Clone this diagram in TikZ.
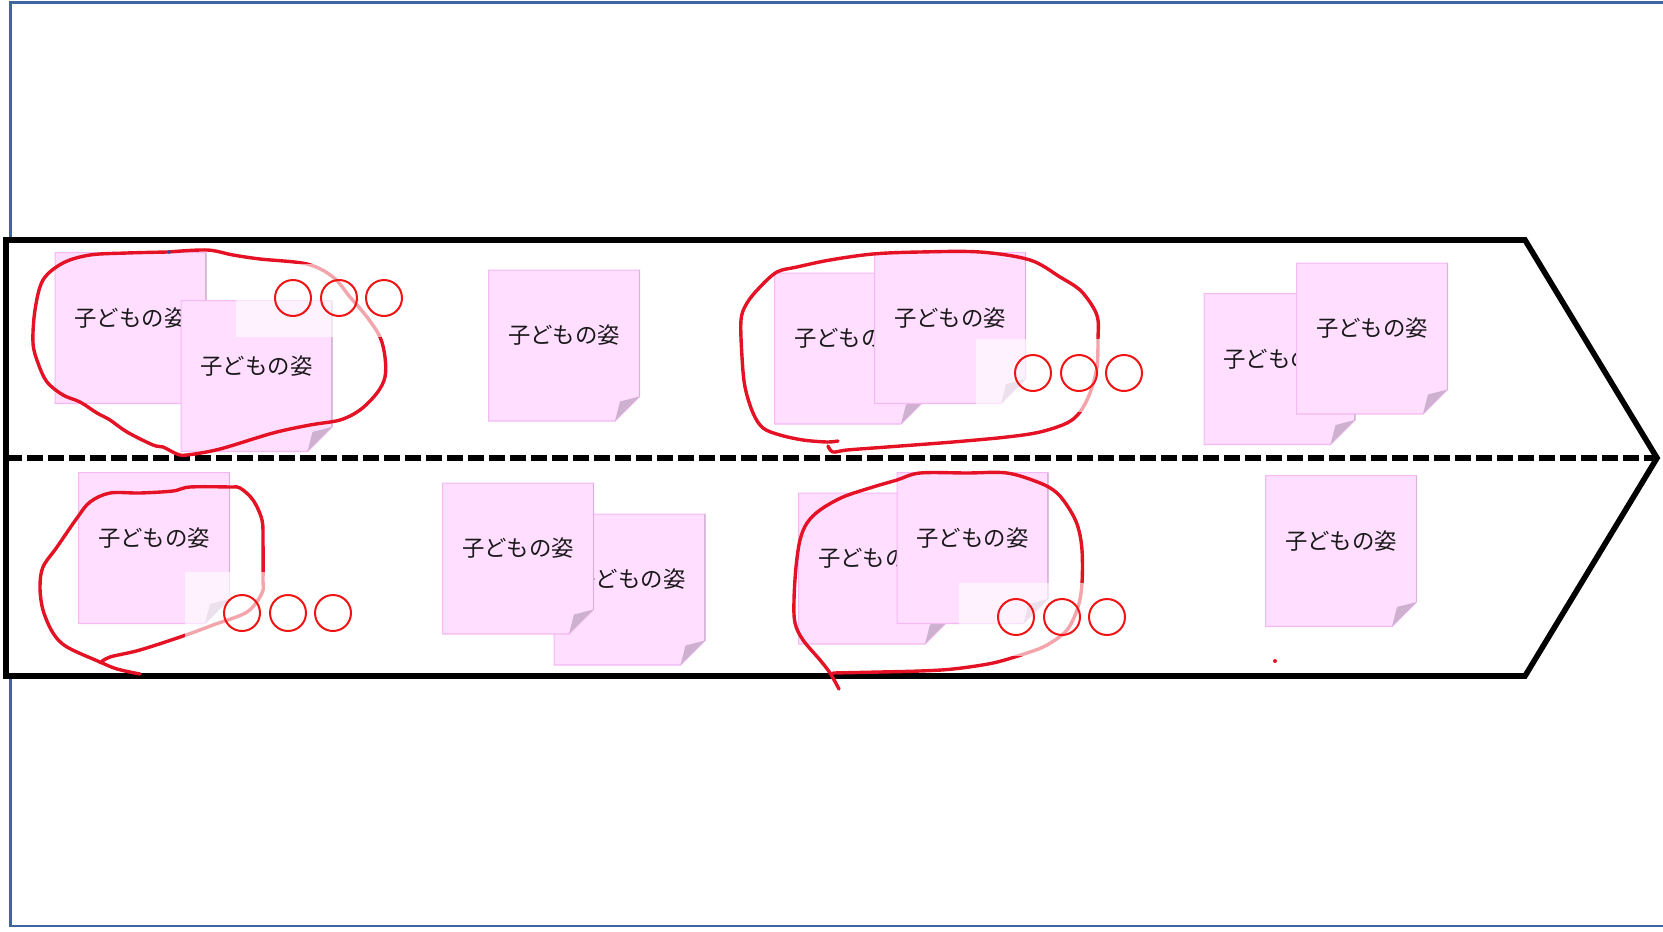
\documentclass[tikz,border=0pt]{standalone}
\usepackage{fontspec}
\newfontfamily\jpfont{Noto Sans CJK JP}
\definecolor{framecol}{RGB}{65,100,165}
\definecolor{notefill}{RGB}{255,222,255}
\definecolor{noteline}{RGB}{244,184,244}
\definecolor{noteedge}{RGB}{214,182,216}
\definecolor{notefold}{RGB}{206,176,208}
\definecolor{lassored}{RGB}{228,18,36}
\definecolor{ringred}{RGB}{240,20,20}
\definecolor{textcol}{RGB}{25,25,25}
\definecolor{dotblue}{RGB}{40,80,160}
\newcommand{\notefont}{\jpfont\fontsize{11.2pt}{13pt}\selectfont}
\begin{document}
\begin{tikzpicture}[x=0.5pt,y=-0.5pt,
  note/.style={minimum width=76pt,minimum height=76pt,inner sep=0pt,outer sep=0pt,
    path picture={
      \path[fill=notefill,draw=noteline,line width=0.6pt]
        ([xshift=0.3pt,yshift=-0.3pt]path picture bounding box.north west) --
        ([xshift=-0.3pt,yshift=-0.3pt]path picture bounding box.north east) --
        ([xshift=-0.3pt,yshift=12.5pt]path picture bounding box.south east) --
        ([xshift=-12.5pt,yshift=0.3pt]path picture bounding box.south east) --
        ([xshift=0.3pt,yshift=0.3pt]path picture bounding box.south west) -- cycle;
      \draw[noteedge,line width=0.6pt]
        ([xshift=-0.3pt,yshift=-0.3pt]path picture bounding box.north east) --
        ([xshift=-0.3pt,yshift=12.5pt]path picture bounding box.south east);
      \fill[notefold]
        ([xshift=-12.5pt,yshift=0.3pt]path picture bounding box.south east) --
        ([xshift=-10pt,yshift=10pt]path picture bounding box.south east) --
        ([xshift=-0.3pt,yshift=12.5pt]path picture bounding box.south east) -- cycle;
    },
    label={[name=#1-t,yshift=5pt,font=\notefont,text=textcol,inner sep=0pt]center:子どもの姿}},
  lasso/.style={draw=lassored,line width=1.7pt,line cap=round,line join=round},
  wbox/.style={fill=white,fill opacity=0.62,draw=none,minimum width=103pt,minimum height=36.5pt,inner sep=0pt},
  ring/.style={circle,draw=ringred,line width=1pt,minimum size=18pt,inner sep=0pt}
]
\useasboundingbox (0,0) rectangle (1663,931);
% outer frame
\draw[framecol,line width=1.1pt] (10.5,2.5) rectangle (1680,926);
% arrow band
\coordinate (aTL) at (6,240);
\coordinate (aTR) at (1525,240);
\coordinate (tip) at (1657,458);
\coordinate (aBR) at (1525,676);
\coordinate (aBL) at (6,676);
\coordinate (lmid) at (6,458);
\draw[line width=2.8pt,fill=white,line join=miter] (aTL) -- (aTR) -- (tip) -- (aBR) -- (aBL) -- cycle;
\draw[line width=2.7pt,dash pattern=on 8pt off 2.5pt] (lmid) -- (tip);
% sticky notes, top row
\node[note=nD] (nD) at (130.5,328) {};
\node[note=nE] (nE) at (256.5,376) {};
\node[note=nA] (nA) at (564,345.5) {};
\node[note=nF] (nF) at (850,348.5) {};
\node[note=nG] (nG) at (950,328) {};
\node[note=nJ] (nJ) at (1279.5,369) {};
\node[note=nK] (nK) at (1372,338.5) {};
% sticky notes, bottom row
\node[note=nM] (nM) at (154,548) {};
\node[note=nC] (nC) at (629.5,589.5) {};
\node[note=nB] (nB) at (518,558.5) {};
\node[note=nH] (nH) at (874,568.5) {};
\node[note=nI] (nI) at (972.5,548) {};
\node[note=nL] (nL) at (1341,551) {};
% lassos
\draw[lasso] plot[smooth,tension=0.55] coordinates {(168,252) (207,250) (233,255) (260,259) (307,264) (333,277) (350,297) (367,317) (380,337) (385,357) (385,377) (377,393) (360,410) (340,420) (310,425) (273,433) (220,449) (187,455) (177,454) (163,447) (153,445) (127,432) (110,420) (97,413) (80,402) (63,395) (47,382) (38,363) (33,343) (35,310) (43,280) (63,263) (90,255) (127,253) (168,252)};
\draw[lasso] plot[smooth,tension=0.55] coordinates {(140,674) (117,669) (100,662) (67,647) (53,633) (43,610) (40,587) (43,567) (57,547) (77,518) (90,502) (110,493) (140,493) (173,491) (190,487) (230,487) (240,488) (253,500) (262,520) (263,543) (263,579) (262,593) (247,612) (213,625) (186,635) (140,650) (110,657) (100,663)};
\draw[lasso] plot[smooth,tension=0.55] coordinates {(838,441) (827,442) (803,440) (780,435) (763,428) (753,413) (745,387) (742,357) (741,320) (747,303) (760,287) (777,272) (797,267) (830,260) (873,254) (920,252) (980,252) (1030,260) (1060,277) (1080,290) (1093,307) (1098,320) (1098,338) (1097,367) (1090,393) (1080,412) (1067,423) (1040,432) (1007,437) (953,442) (887,447) (847,450) (833,452) (828,446)};
\draw[lasso] plot[smooth,tension=0.55] coordinates {(839,689) (830,673) (820,660) (803,640) (795,623) (794,600) (796,567) (800,540) (807,523) (820,510) (843,497) (873,487) (897,480) (920,473) (967,473) (1007,473) (1040,483) (1057,493) (1070,510) (1078,527) (1082,550) (1082,583) (1078,607) (1067,630) (1047,645) (1027,653) (993,663) (953,669) (920,671) (880,672) (833,673)};
% translucent boxes with circles
\node[wbox] (o1) at (339,300.5) {};
\node[wbox] (o2) at (288,608) {};
\node[wbox] (o3) at (1079,375.5) {};
\node[wbox] (o4) at (1062,619) {};
\node[ring] (r1a) at (293,298) {};
\node[ring] (r1b) at (339,298) {};
\node[ring] (r1c) at (384,298) {};
\node[ring] (r2a) at (242,613) {};
\node[ring] (r2b) at (288,613) {};
\node[ring] (r2c) at (333,613) {};
\node[ring] (r3a) at (1033,373) {};
\node[ring] (r3b) at (1079,373) {};
\node[ring] (r3c) at (1124,373) {};
\node[ring] (r4a) at (1016,617) {};
\node[ring] (r4b) at (1062,617) {};
\node[ring] (r4c) at (1107,617) {};
% stray marks
\fill[dotblue] (169,252) circle (0.9pt);
\fill[lassored] (1275,661) circle (1pt);
\end{tikzpicture}
\end{document}
